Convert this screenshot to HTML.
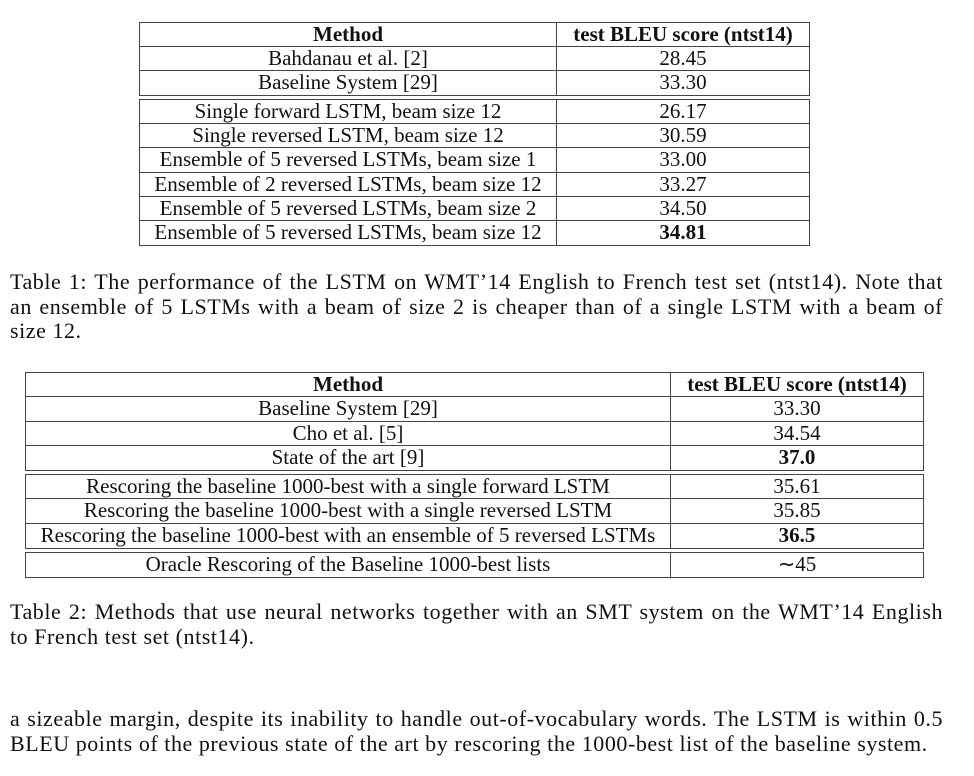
<!DOCTYPE html>
<html><head><meta charset="utf-8"><style>
body{margin:0;width:974px;height:776px;background:#fff;position:relative;overflow:hidden;font-family:"Liberation Serif",serif;color:#111;font-size:21px}
.g{position:absolute;border:1.5px solid #444;box-sizing:border-box;display:grid}
.c{box-sizing:border-box;text-align:center;line-height:23px;height:24.3px;border-bottom:1.3px solid #444;white-space:nowrap;overflow:hidden}
.c.l{border-right:1.3px solid #444}
.last{border-bottom:none}
b{font-weight:bold}
.t1 .c{height:24.2px}
.cap{position:absolute;left:10px;width:933px;line-height:24.7px;font-size:22px;letter-spacing:0.55px}
.ln{text-align:justify;text-align-last:justify;white-space:nowrap;height:24.7px}
.ln.e{text-align-last:left}
</style></head><body>
<div class="g t1" style="left:139px;top:22px;width:671px;height:74px;grid-template-columns:417px 1fr">
<div class="c l"><b>Method</b></div><div class="c"><b>test BLEU score (ntst14)</b></div>
<div class="c l">Bahdanau et al. [2]</div><div class="c">28.45</div>
<div class="c l last">Baseline System [29]</div><div class="c last">33.30</div>
</div>
<div class="g t1" style="left:139px;top:99px;width:671px;height:147px;grid-template-columns:417px 1fr">
<div class="c l">Single forward LSTM, beam size 12</div><div class="c">26.17</div>
<div class="c l">Single reversed LSTM, beam size 12</div><div class="c">30.59</div>
<div class="c l">Ensemble of 5 reversed LSTMs, beam size 1</div><div class="c">33.00</div>
<div class="c l">Ensemble of 2 reversed LSTMs, beam size 12</div><div class="c">33.27</div>
<div class="c l">Ensemble of 5 reversed LSTMs, beam size 2</div><div class="c">34.50</div>
<div class="c l last">Ensemble of 5 reversed LSTMs, beam size 12</div><div class="c last"><b>34.81</b></div>
</div>
<div class="cap" style="top:270px">
<div class="ln">Table 1: The performance of the LSTM on WMT’14 English to French test set (ntst14). Note that</div>
<div class="ln">an ensemble of 5 LSTMs with a beam of size 2 is cheaper than of a single LSTM with a beam of</div>
<div class="ln e">size 12.</div>
</div>

<div class="g" style="left:25px;top:372px;width:899px;height:99px;grid-template-columns:645px 1fr">
<div class="c l"><b>Method</b></div><div class="c"><b>test BLEU score (ntst14)</b></div>
<div class="c l">Baseline System [29]</div><div class="c">33.30</div>
<div class="c l">Cho et al. [5]</div><div class="c">34.54</div>
<div class="c l last">State of the art [9]</div><div class="c last"><b>37.0</b></div>
</div>
<div class="g" style="left:25px;top:474px;width:899px;height:75px;grid-template-columns:645px 1fr">
<div class="c l">Rescoring the baseline 1000-best with a single forward LSTM</div><div class="c">35.61</div>
<div class="c l">Rescoring the baseline 1000-best with a single reversed LSTM</div><div class="c">35.85</div>
<div class="c l last">Rescoring the baseline 1000-best with an ensemble of 5 reversed LSTMs</div><div class="c last"><b>36.5</b></div>
</div>
<div class="g" style="left:25px;top:552px;width:899px;height:26px;grid-template-columns:645px 1fr">
<div class="c l last">Oracle Rescoring of the Baseline 1000-best lists</div><div class="c last">∼45</div>
</div>
<div class="cap" style="top:600px">
<div class="ln">Table 2: Methods that use neural networks together with an SMT system on the WMT’14 English</div>
<div class="ln e">to French test set (ntst14).</div>
</div>
<div class="cap" style="top:707px">
<div class="ln">a sizeable margin, despite its inability to handle out-of-vocabulary words. The LSTM is within 0.5</div>
<div class="ln e">BLEU points of the previous state of the art by rescoring the 1000-best list of the baseline system.</div>
</div>
</body></html>
